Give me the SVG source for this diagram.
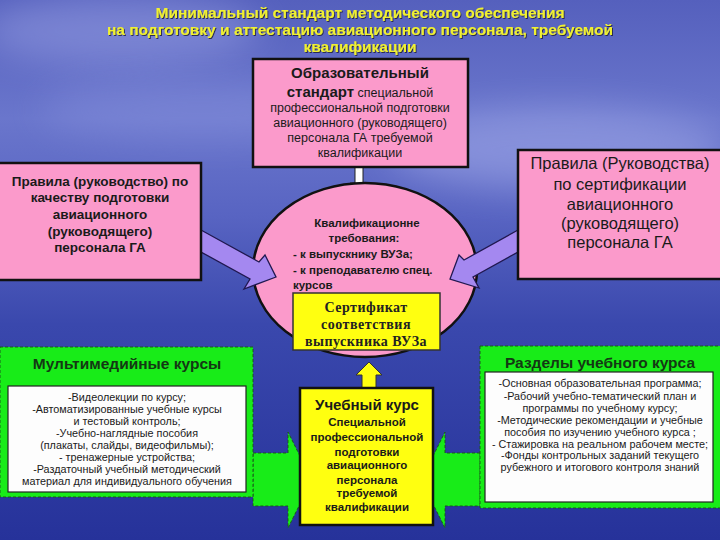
<svg xmlns="http://www.w3.org/2000/svg" width="720" height="540" viewBox="0 0 720 540">
<defs>
<linearGradient id="bg" x1="0" y1="0" x2="0" y2="1">
<stop offset="0" stop-color="#5560bd"/>
<stop offset="0.22" stop-color="#6a76cc"/>
<stop offset="0.4" stop-color="#5864c2"/>
<stop offset="0.6" stop-color="#3a48ad"/>
<stop offset="1" stop-color="#26329a"/>
</linearGradient>
<filter id="blur" x="-50%" y="-50%" width="200%" height="200%"><feGaussianBlur stdDeviation="18"/></filter>
<filter id="shadow" x="-10%" y="-30%" width="120%" height="160%"><feDropShadow dx="1" dy="1" stdDeviation="0.6" flood-color="#202040" flood-opacity="0.9"/></filter>
<style>
.title{font-family:"Liberation Sans",Arial,sans-serif;font-weight:bold;font-size:15.5px;fill:#f0f030;text-anchor:middle;filter:url(#shadow)}
.pink{fill:#fb9acb;stroke:#111;stroke-width:2.5}
.t{font-family:"Liberation Sans",Arial,sans-serif;fill:#1a1a1a;text-anchor:middle}
.st{text-anchor:start}
.b{font-weight:bold}
.green{fill:#18ec18;stroke:#1a5a1a;stroke-width:1;stroke-dasharray:3 2}
.white{fill:#fdfdfd;stroke:#222;stroke-width:1.2}
.small{font-size:10.8px}
.gt{font-family:"Liberation Sans",Arial,sans-serif;font-size:15.5px;font-weight:bold;fill:#143814;text-anchor:middle}
.purple{fill:#a488f0;stroke:#201850;stroke-width:1.3}
.garrow{fill:#18ec18;stroke:#1a5a1a;stroke-width:1;stroke-dasharray:3 2}
.serif{font-family:"Liberation Serif","Times New Roman",serif;font-weight:bold;font-size:14px;fill:#222;text-anchor:middle;letter-spacing:0.5px}
</style>
</defs>
<rect width="720" height="540" fill="url(#bg)"/>
<ellipse cx="120" cy="30" rx="140" ry="35" fill="#a0a8e8" opacity="0.45" filter="url(#blur)"/>
<ellipse cx="560" cy="150" rx="170" ry="40" fill="#a8b0ec" opacity="0.5" filter="url(#blur)"/>
<ellipse cx="200" cy="110" rx="160" ry="30" fill="#8c96e0" opacity="0.4" filter="url(#blur)"/>

<g id="title">
<text class="title" x="360" y="18">Минимальный стандарт методического обеспечения</text>
<text class="title" x="360" y="35">на подготовку и аттестацию авиационного персонала, требуемой</text>
<text class="title" x="360" y="52">квалификации</text>
</g>

<g id="connectors">
<polygon points="355,167 363,167 363,183 367,183 359,193 350,183 355,183" fill="#ffffff" stroke="#222" stroke-width="1"/>
<polygon class="garrow" points="253,453 288,453 288,432 312,480 288,528 288,506 253,506"/>
<polygon class="garrow" points="480,453 445,453 445,432 421,480 445,528 445,506 480,506"/>
</g>

<g id="node-ellipse">
<ellipse cx="365" cy="270" rx="112" ry="87" class="pink" stroke-width="3"/>
<text class="t b" font-size="11.5" x="367" y="227">Квалификационне</text>
<text class="t b" font-size="11.5" x="364" y="242">требования:</text>
<text class="t b st" font-size="11.5" x="293" y="258">- к выпускнику ВУЗа;</text>
<text class="t b st" font-size="11.5" x="293" y="274">- к преподавателю спец.</text>
<text class="t b st" font-size="11.5" x="293" y="289">курсов</text>
</g>

<g id="connectors-purple">
<polygon class="purple" points="201,230 201,252 250,279 244,289 276,277 265,255 259,262"/>
<polygon class="purple" points="518,230 518,252 473,277 479,288 450,279 459,255 464,260"/>
</g>

<g id="node-standard">
<rect x="253" y="59" width="215" height="108" class="pink" stroke-width="2"/>
<text class="t b" font-size="15" x="360" y="78">Образовательный</text>
<text class="t" x="360" y="97"><tspan class="b" font-size="15">стандарт</tspan><tspan font-size="12.5">  специальной</tspan></text>
<text class="t" font-size="12.5" x="360" y="112">профессиональной подготовки</text>
<text class="t" font-size="12.5" x="360" y="127">авиационного (руководящего)</text>
<text class="t" font-size="12.5" x="360" y="142">персонала ГА требуемой</text>
<text class="t" font-size="12.5" x="360" y="157">квалификации</text>
</g>

<g id="node-left-rules">
<rect x="-2" y="163" width="203" height="117" class="pink" stroke-width="3"/>
<text class="t b" font-size="13.5" x="100" y="186">Правила (руководство) по</text>
<text class="t b" font-size="13.5" x="100" y="202">качеству подготовки</text>
<text class="t b" font-size="13.5" x="100" y="219">авиационного</text>
<text class="t b" font-size="13.5" x="100" y="236">(руководящего)</text>
<text class="t b" font-size="13.5" x="100" y="252">персонала ГА</text>
</g>

<g id="node-right-rules">
<rect x="518" y="150" width="204" height="129" class="pink" stroke-width="3"/>
<text class="t" font-size="16.5" x="620" y="169">Правила (Руководства)</text>
<text class="t" font-size="16.5" x="620" y="190">по сертификации</text>
<text class="t" font-size="16.5" x="620" y="210">авиационного</text>
<text class="t" font-size="16.5" x="620" y="229">(руководящего)</text>
<text class="t" font-size="16.5" x="620" y="248">персонала ГА</text>
</g>

<g id="node-certificate">
<rect x="293" y="293" width="147" height="57" fill="#ffff10" stroke="#333" stroke-width="1.5"/>
<text class="serif" x="366" y="312">Сертификат</text>
<text class="serif" x="366" y="329">соответствия</text>
<text class="serif" x="366" y="346">выпускника ВУЗа</text>
</g>

<g id="connector-yellow">
<polygon points="362,390 362,375 356,375 369,362 382,375 376,375 376,390" fill="#ffff10" stroke="#333" stroke-width="1"/>
</g>

<g id="node-multimedia">
<rect x="0" y="347" width="253" height="150" class="green"/>
<text class="gt" x="127" y="369">Мультимедийные курсы</text>
<rect x="8" y="386" width="238" height="106" class="white"/>
<text class="t small" x="127" y="401">-Видеолекции по курсу;</text>
<text class="t small" x="127" y="413">-Автоматизированные учебные курсы</text>
<text class="t small" x="127" y="425">и тестовый контроль;</text>
<text class="t small" x="127" y="437">-Учебно-наглядные пособия</text>
<text class="t small" x="127" y="449">(плакаты, слайды, видеофильмы);</text>
<text class="t small" x="127" y="461">- тренажерные устройства;</text>
<text class="t small" x="127" y="473">-Раздаточный учебный методический</text>
<text class="t small" x="127" y="485">материал для индивидуального обучения</text>
</g>

<g id="node-course">
<rect x="300" y="388" width="133" height="137" fill="#ffff10" stroke="#111" stroke-width="2.5"/>
<text class="t b" font-size="15" x="367" y="410">Учебный курс</text>
<text class="t b" font-size="11.5" x="367" y="426">Специальной</text>
<text class="t b" font-size="11.5" x="367" y="441">профессиональной</text>
<text class="t b" font-size="11.5" x="367" y="456">подготовки</text>
<text class="t b" font-size="11.5" x="367" y="469">авиационного</text>
<text class="t b" font-size="11.5" x="367" y="484">персонала</text>
<text class="t b" font-size="11.5" x="367" y="497">требуемой</text>
<text class="t b" font-size="11.5" x="367" y="511">квалификации</text>
</g>

<g id="node-sections">
<rect x="480" y="346" width="242" height="162" class="green"/>
<text class="gt" x="600" y="368">Разделы учебного курса</text>
<rect x="485" y="372" width="228" height="130" class="white"/>
<text class="t small" x="600" y="387">-Основная образовательная программа;</text>
<text class="t small" x="600" y="400">-Рабочий  учебно-тематический план и</text>
<text class="t small" x="600" y="412">программы по учебному курсу;</text>
<text class="t small" x="600" y="424">-Методические рекомендации и учебные</text>
<text class="t small" x="600" y="436">пособия по изучению учебного курса ;</text>
<text class="t small" x="600" y="448">- Стажировка на реальном рабочем месте;</text>
<text class="t small" x="600" y="459">-Фонды контрольных заданий текущего</text>
<text class="t small" x="600" y="471">рубежного и итогового контроля знаний</text>
</g>
</svg>
